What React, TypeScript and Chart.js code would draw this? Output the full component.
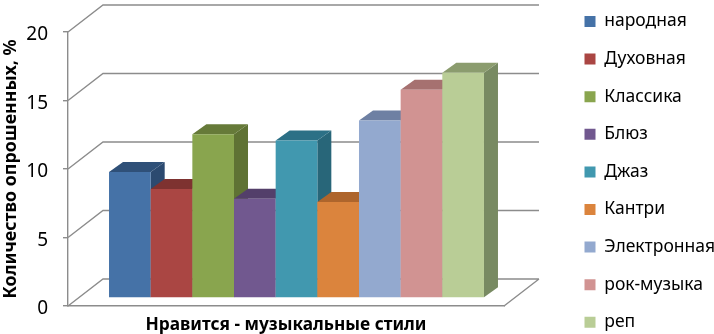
import React, { useEffect, useRef } from "react";
import { Chart, registerables } from "chart.js";

Chart.register(...registerables);

const category = ["Нравится - музыкальные стили"];
const seriesNames = ["народная", "Духовная", "Классика", "Блюз", "Джаз", "Кантри", "Электронная", "рок-музыка", "реп"];
const seriesValues = [9.2, 7.95, 11.95, 7.25, 11.5, 7.0, 12.95, 15.2, 16.45];
const frontColors = ["#4572A7", "#AA4643", "#89A54E", "#71588F", "#4198AF", "#DB843D", "#93A9CF", "#D19392", "#B9CD96"];
const topColors = ["#2F5078", "#7E3230", "#667A39", "#533F6A", "#2C7086", "#AE652C", "#6E80A3", "#A67170", "#8B9C6E"];
const sideColors = ["#2C4A70", "#702B29", "#5F7234", "#4C3A62", "#286679", "#A05C27", "#64769A", "#997070", "#788A62"];
const yTicks = { min: 0, max: 20, step: 5 };

const GRID = "#8C8C8C";
const WALL = { dx: 35, dy: -27 };
const BAR_DEPTH = { dx: 14, dy: -10 };
const BAR_SHIFT = { dx: 10.5, dy: -8 };
const LEGEND = { box: 11, font: 17.5, rowGap: 37.6, x: 584.5, firstCenter: 21.5 };

const scene3d = {
  id: "scene3d",
  beforeLayout(chart: any) {
    const legend = chart.legend;
    if (legend && !legend.__patched) {
      legend.__patched = true;
      const fit = legend.fit.bind(legend);
      legend.fit = function () {
        legend.maxHeight = 600;
        fit();
        legend.width = 210;
        legend.height = 334;
      };
    }
  },
  afterLayout(chart: any) {
    const legend = chart.legend;
    const pad = legend.options.labels.padding;
    legend.left = LEGEND.x - pad;
    legend.right = 800;
    legend.top = LEGEND.firstCenter - pad - LEGEND.font / 2;
    legend.bottom = 600;
  },
  beforeDatasetsDraw(chart: any) {
    const { ctx, scales, chartArea } = chart;
    const y = scales.y;
    const left = chartArea.left;
    const right = chartArea.right;
    ctx.save();
    ctx.strokeStyle = GRID;
    ctx.lineWidth = 1.4;
    ctx.beginPath();
    for (const tick of y.ticks) {
      const py = y.getPixelForValue(tick.value);
      ctx.moveTo(left, py);
      ctx.lineTo(left + WALL.dx, py + WALL.dy);
      ctx.lineTo(right + WALL.dx, py + WALL.dy);
    }
    const floor = y.getPixelForValue(0);
    ctx.moveTo(right, floor);
    ctx.lineTo(right + WALL.dx, floor + WALL.dy);
    ctx.stroke();

    ctx.translate(BAR_SHIFT.dx, BAR_SHIFT.dy);
    seriesValues.forEach((_, i) => {
      const meta = chart.getDatasetMeta(i);
      const bar = meta.data[0];
      const { x, y: top, base, width } = bar.getProps(["x", "y", "base", "width"], true);
      const l = x - width / 2;
      const r = x + width / 2;
      ctx.fillStyle = sideColors[i];
      ctx.beginPath();
      ctx.moveTo(r, top);
      ctx.lineTo(r + BAR_DEPTH.dx, top + BAR_DEPTH.dy);
      ctx.lineTo(r + BAR_DEPTH.dx, base + BAR_DEPTH.dy);
      ctx.lineTo(r, base);
      ctx.closePath();
      ctx.fill();
      ctx.fillStyle = topColors[i];
      ctx.beginPath();
      ctx.moveTo(l, top);
      ctx.lineTo(l + BAR_DEPTH.dx, top + BAR_DEPTH.dy);
      ctx.lineTo(r + BAR_DEPTH.dx, top + BAR_DEPTH.dy);
      ctx.lineTo(r, top);
      ctx.closePath();
      ctx.fill();
      meta.controller.draw();
    });
    ctx.restore();
    return false;
  },
};

export default function App() {
  const ref = useRef<HTMLCanvasElement>(null);
  useEffect(() => {
    document.body.style.margin = "0";
    const chart = new Chart(ref.current as HTMLCanvasElement, {
      type: "bar",
      data: {
        labels: category,
        datasets: seriesNames.map((name, i) => ({
          label: name,
          data: [seriesValues[i]],
          backgroundColor: frontColors[i],
          borderWidth: 0,
          categoryPercentage: 0.86,
          barPercentage: 1,
        })),
      },
      options: {
        responsive: false,
        animation: false,
        layout: { padding: { top: 32, left: 0, right: 0, bottom: 0 } },
        plugins: {
          tooltip: { enabled: false },
          title: { display: false },
          legend: {
            display: true,
            position: "right",
            align: "start",
            labels: {
              boxWidth: LEGEND.box,
              boxHeight: LEGEND.box,
              padding: LEGEND.rowGap - LEGEND.font,
              color: "#000000",
              font: { family: "'Noto Sans'", size: LEGEND.font },
            },
          },
        },
        scales: {
          x: {
            grid: { display: false },
            border: { display: true, color: GRID, width: 1.4 },
            ticks: {
              padding: 1,
              color: "#000000",
              font: { family: "'Noto Sans'", size: 17.3, weight: "bold" },
            },
            afterFit(scale: any) {
              scale.height = 28;
            },
          },
          y: {
            min: yTicks.min,
            max: yTicks.max,
            grid: { drawOnChartArea: false, drawTicks: true, tickLength: 5, color: GRID, lineWidth: 1.4 },
            border: { display: true, color: GRID, width: 1.4 },
            ticks: {
              stepSize: yTicks.step,
              padding: 15,
              labelOffset: 3,
              color: "#000000",
              font: { family: "'Noto Sans'", size: 19 },
            },
            title: {
              display: true,
              text: "Количество опрошенных, %",
              color: "#000000",
              padding: 0,
              font: { family: "'Noto Sans'", size: 17.8, weight: "bold" },
            },
            afterFit(scale: any) {
              scale.width = 68;
            },
          },
        },
      },
      plugins: [scene3d],
    } as any);
    return () => chart.destroy();
  }, []);
  return <canvas ref={ref} width={714} height={334} style={{ display: "block" }} />;
}
